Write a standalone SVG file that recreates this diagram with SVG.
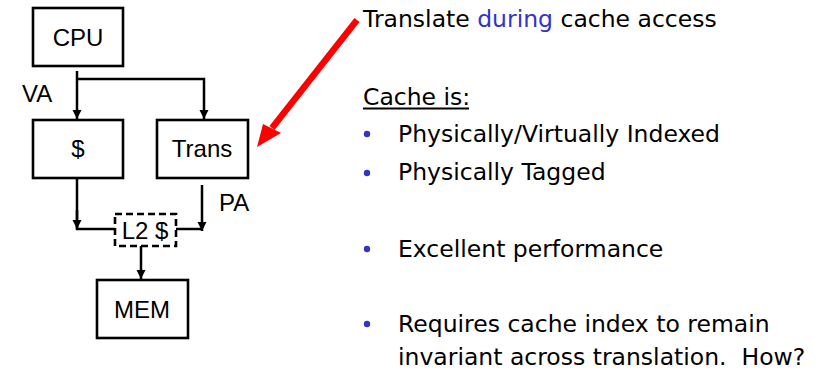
<svg xmlns="http://www.w3.org/2000/svg" width="823" height="371" viewBox="0 0 823 371">
<defs>
<style>
.box{fill:#fff;stroke:#000;stroke-width:2.6}
.dbox{fill:none;stroke:#000;stroke-width:2.6;stroke-dasharray:7 4}
.lt{font-family:"Liberation Sans",Arial,sans-serif;font-size:24px;fill:#000}
.rt{font-family:"DejaVu Sans",Verdana,sans-serif;font-size:23.5px;fill:#000}
.ln{fill:none;stroke:#000;stroke-width:2.5}
.bl{fill:#3333cc}
</style>
<marker id="ah" viewBox="0 0 10 10" refX="10" refY="5" markerWidth="9" markerHeight="10" markerUnits="userSpaceOnUse" orient="auto">
<path d="M0,0 L10,5 L0,10 Z" fill="#000"/>
</marker>
</defs>
<rect width="823" height="371" fill="#fff"/>
<g id="connectors">
<line class="ln" x1="77" y1="71" x2="77" y2="119" marker-end="url(#ah)"/>
<polyline class="ln" points="77,79 204,79 204,119" marker-end="url(#ah)"/>
<polyline class="ln" points="77,178 77,229 115,229"/>
<line class="ln" x1="77" y1="210" x2="77" y2="229" marker-end="url(#ah)"/>
<polyline class="ln" points="176,229 202,229"/>
<line class="ln" x1="202" y1="185" x2="202" y2="231" marker-end="url(#ah)"/>
<line class="ln" x1="141" y1="246" x2="141" y2="279" marker-end="url(#ah)"/>
<g id="red-arrow">
<line x1="357" y1="20" x2="272" y2="128" stroke="#ff0000" stroke-width="6.5"/>
<polygon points="257,147 263,124 281,133" fill="#ff0000"/>
</g>
</g>
<g id="cpu"><rect class="box" x="33" y="8" width="90" height="58"/><text class="lt" x="78" y="46" text-anchor="middle">CPU</text></g>
<g id="va"><text class="lt" x="22" y="102">VA</text></g>
<g id="cache"><rect class="box" x="33" y="120" width="90" height="58"/><text class="lt" x="78" y="157" text-anchor="middle">$</text></g>
<g id="trans"><rect class="box" x="157" y="120" width="91" height="58"/><text class="lt" x="202" y="157" text-anchor="middle">Trans</text></g>
<g id="pa"><text class="lt" x="219" y="211">PA</text></g>
<g id="l2"><rect class="dbox" x="115" y="214" width="61" height="32"/><text class="lt" x="145" y="239" text-anchor="middle">L2 $</text></g>
<g id="mem"><rect class="box" x="97" y="280" width="91" height="58"/><text class="lt" x="142" y="318" text-anchor="middle">MEM</text></g>
<g id="text-panel">
<text class="rt" x="363" y="27">Translate <tspan fill="#3333cc">during</tspan> cache access</text>
<text class="rt" x="363" y="105">Cache is:</text>
<line x1="363" y1="108.5" x2="469" y2="108.5" stroke="#000" stroke-width="1.8"/>
<circle class="bl" cx="367" cy="134" r="3.2"/>
<text class="rt" x="398" y="142">Physically/Virtually Indexed</text>
<circle class="bl" cx="367" cy="173" r="3.2"/>
<text class="rt" x="398" y="180">Physically Tagged</text>
<circle class="bl" cx="367" cy="249" r="3.2"/>
<text class="rt" x="398" y="257">Excellent performance</text>
<circle class="bl" cx="367" cy="324" r="3.2"/>
<text class="rt" x="398" y="332">Requires cache index to remain</text>
<text class="rt" x="398" y="365" xml:space="preserve">invariant across translation.  How?</text>
</g>
</svg>
